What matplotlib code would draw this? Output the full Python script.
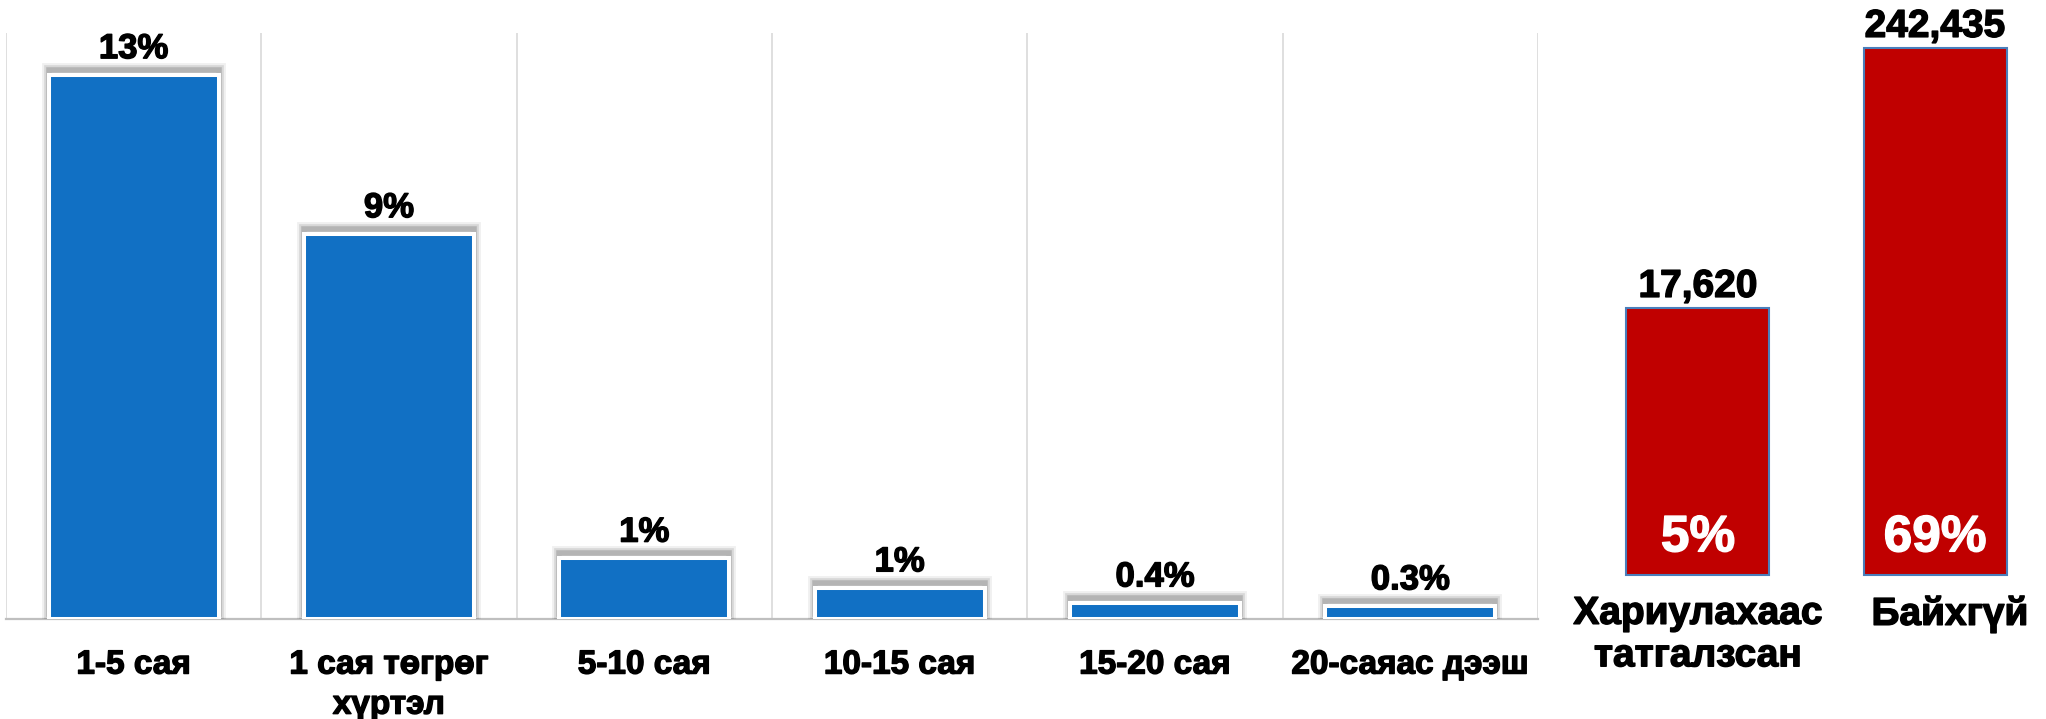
import numpy as np
import matplotlib
matplotlib.use("Agg")
import matplotlib.pyplot as plt
import matplotlib.patheffects as pe
from matplotlib.transforms import ScaledTranslation

# income groups (share of respondents, %)
categories = ["1-5 сая", "1 сая төгрөг\nхүртэл", "5-10 сая", "10-15 сая", "15-20 сая", "20-саяас дээш"]
shares = [13.0, 9.2, 1.45, 0.74, 0.38, 0.31]
share_labels = ["13%", "9%", "1%", "1%", "0.4%", "0.3%"]

# refused / no income (number of respondents)
groups = ["Хариулахаас\nтатгалзсан", "Байхгүй"]
counts = [17620, 242435]
count_labels = ["17,620", "242,435"]
count_pcts = ["5%", "69%"]

W, H = 2046, 719
C_BLUE, C_RED, C_EDGE = "#1170C4", "#C00000", "#4A7EBB"
C_GRID, C_AXIS = "#D9D9D9", "#BFBFBF"

plt.rcParams["font.family"] = ["Liberation Sans", "DejaVu Sans"]
plt.rcParams["font.weight"] = "bold"


class Glow(pe.Stroke):
    """stroke only (no face) so it acts as a soft shadow ring"""
    def draw_path(self, renderer, gc, tpath, affine, rgbFace):
        super().draw_path(renderer, gc, tpath, affine, None)


shadow = [Glow(offset=(0, 3.5), linewidth=lw, foreground="black", alpha=a)
          for lw, a in [(10, 0.06), (7, 0.10), (4, 0.16)]] + [pe.Normal()]
heavy = [pe.withStroke(linewidth=1.0, foreground="black")]
heavy_w = [pe.withStroke(linewidth=1.0, foreground="white")]

fig = plt.figure(figsize=(W / 100, H / 100), dpi=100)


def px_axes(x0, x1, y0, y1):
    # box in pixels, y counted from the top
    return fig.add_axes([x0 / W, 1 - y1 / H, (x1 - x0) / W, (y1 - y0) / H])


# left chart
ax = px_axes(6, 1538, 33, 619)
x = np.arange(len(categories))
bars = ax.bar(x, shares, width=0.666, color=C_BLUE, edgecolor="white", lw=2.9, zorder=3)
for b in bars:
    b.set_path_effects(shadow)
for xi, v, lbl in zip(x, shares, share_labels):
    ax.annotate(lbl, (xi, v), xytext=(0, 12), textcoords="offset points",
                ha="center", va="baseline", fontsize=25, fontweight="bold", zorder=4,
                path_effects=heavy)
ax.set_xlim(-0.5, len(categories) - 0.5)
ax.set_ylim(0, 14)
ax.set_xticks(x, categories, fontsize=24, fontweight="bold", linespacing=1.38)
for t in ax.get_xticklabels():
    t.set_path_effects(heavy)
ax.set_xticks(np.arange(-0.5, len(categories), 1), minor=True)
ax.grid(True, which="minor", axis="x", color=C_GRID, lw=1.2)
ax.tick_params(axis="x", which="both", length=0, pad=22)
ax.tick_params(axis="y", left=False, labelleft=False)
for s in ("top", "right", "left"):
    ax.spines[s].set_visible(False)
ax.spines["bottom"].set_color(C_AXIS)
ax.spines["bottom"].set_linewidth(1.6)

# right chart, log scale
base = 1194
ax2 = px_axes(1560, 2046, 33, 575)
ax2.set_yscale("log")
xr = np.arange(len(groups))
ax2.bar(xr, np.array(counts) - base, bottom=base, width=0.603, color=C_RED,
        edgecolor=C_EDGE, lw=1.5, clip_on=False, zorder=3)
for xi, v, lbl, pct in zip(xr, counts, count_labels, count_pcts):
    ax2.annotate(lbl, (xi, v), xytext=(0, 8), textcoords="offset points",
                 ha="center", va="baseline", fontsize=28, fontweight="bold",
                 path_effects=heavy)
    ax2.annotate(pct, (xi, base), xytext=(0, 17), textcoords="offset points",
                 ha="center", va="baseline", fontsize=37, fontweight="bold", color="white",
                 zorder=4, path_effects=heavy_w)
ax2.set_xlim(-0.582, 1.468)
ax2.set_ylim(base, 2.82e5)
ax2.set_xticks(xr, groups, fontsize=28, fontweight="bold", linespacing=1.23)
ax2.tick_params(axis="x", length=0, pad=15)
ax2.tick_params(axis="y", which="both", left=False, labelleft=False)
labels2 = ax2.get_xticklabels()
for t in labels2:
    t.set_path_effects(heavy)
labels2[1].set_transform(labels2[1].get_transform() + ScaledTranslation(0.15, 0, fig.dpi_scale_trans))
for s in ax2.spines.values():
    s.set_visible(False)

fig.savefig("out.png", dpi=100)
